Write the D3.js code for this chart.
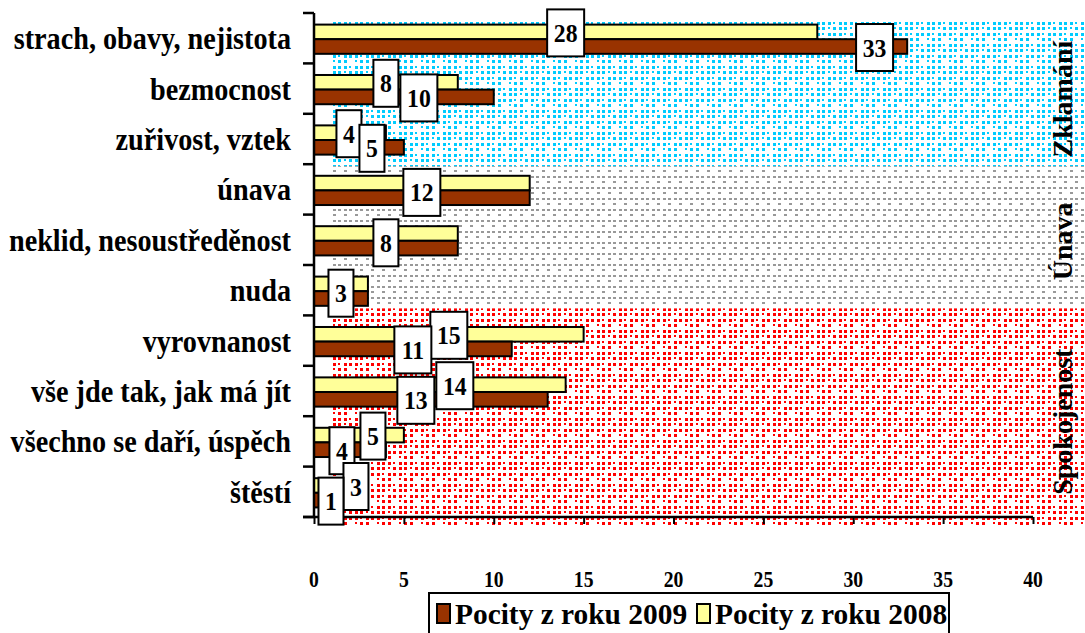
<!DOCTYPE html>
<html>
<head>
<meta charset="utf-8">
<script src="https://cdn.jsdelivr.net/npm/d3@7/dist/d3.min.js"></script>
<style>
  html, body { margin: 0; padding: 0; background: #fff; }
  svg { display: block; }
  text { font-family: "Liberation Serif", "Times New Roman", serif; font-weight: bold; fill: #000; }
</style>
</head>
<body>
<svg id="chart" width="1085" height="633"></svg>
<script>
// ---------------- DATA ----------------
const categories = [
  "strach, obavy, nejistota",
  "bezmocnost",
  "zuřivost, vztek",
  "únava",
  "neklid, nesoustředěnost",
  "nuda",
  "vyrovnanost",
  "vše jde tak, jak má jít",
  "všechno se daří, úspěch",
  "štěstí"
];
const values2008 = [28, 8, 4, 12, 8, 3, 15, 14, 5, 3];
const values2009 = [33, 10, 5, 12, 8, 3, 11, 13, 4, 1];
const seriesNames = ["Pocity z roku 2009", "Pocity z roku 2008"];
const groupNames = ["Zklamání", "Únava", "Spokojenost"];
const groupFirst = [0, 3, 6];
const groupLast = [2, 5, 9];
const xTickValues = [0, 5, 10, 15, 20, 25, 30, 35, 40];

// ---------------- LAYOUT / STYLE ----------------
const W = 1085, H = 633;
const plot = { left: 314, right: 1033, top: 13, bottom: 517 };
const colors = { y2008: "#FFFF99", y2009: "#993300" };
const groupColors = ["#00CCFF", "#999999", "#FF0000"];
// manual label nudges in px (as placed in the original), relative to bar middle
const labelNudge2008 = [0, 0, -1, 0, 0, 0, 0, 15, 14, 15];
const labelNudge2009 = [264, 15, 13, 0, 0, 0, 0, -15, -8, 8];

const svg = d3.select("#chart");
svg.append("rect").attr("width", W).attr("height", H).attr("fill", "#fff");

const x = d3.scaleLinear().domain([0, 40]).range([plot.left, plot.right]);
const y = d3.scaleBand().domain(categories).range([plot.top, plot.bottom]);
const bw = y.bandwidth();
const inner = d3.scaleBand().domain(["2008", "2009"]).range([bw * 0.23, bw * 0.81]);

// ---------- patterns ----------
const defs = svg.append("defs");
const cols = [0, 5, 11, 16];
const rowsP = [0, 5, 11, 16];
const dotMask = [
  [3, 3, 3, 2],
  [3, 3, 2, 3],
  [3, 2, 3, 3],
  [2, 3, 3, 0]
];
const greyMask = [
  [3, 3, 3, 3],
  [0, 3, 0, 3],
  [3, 3, 3, 3],
  [3, 0, 3, 0]
];
groupColors.forEach((c, gi) => {
  const p = defs.append("pattern")
    .attr("id", "pat" + gi)
    .attr("patternUnits", "userSpaceOnUse")
    .attr("x", 333).attr("y", 0)
    .attr("width", 22).attr("height", 22);
  const mask = gi === 1 ? greyMask : dotMask;
  mask.forEach((row, r) => row.forEach((s, k) => {
    if (!s) return;
    p.append("rect")
      .attr("x", cols[k]).attr("y", rowsP[r])
      .attr("width", s).attr("height", gi === 1 ? 2 : s)
      .attr("fill", c)
      .attr("shape-rendering", "crispEdges");
  }));
});

// ---------- background group regions ----------
const regionX0 = 330;
const regTop = [
  y(categories[groupFirst[0]]) + 9,
  y(categories[groupLast[0]]) + bw + 2,
  y(categories[groupLast[1]]) + bw - 7
];
const regBottom = [
  y(categories[groupLast[0]]) + bw + 2,
  y(categories[groupLast[1]]) + bw - 9,
  y(categories[groupLast[2]]) + bw + 8
];
groupNames.forEach((g, gi) => {
  svg.append("rect")
    .attr("x", regionX0).attr("y", regTop[gi])
    .attr("width", W - regionX0).attr("height", regBottom[gi] - regTop[gi])
    .attr("fill", `url(#pat${gi})`);
  const cy = (regTop[gi] + regBottom[gi]) / 2 + 5;
  svg.append("text")
    .attr("transform", `translate(1072,${cy}) rotate(-90)`)
    .attr("text-anchor", "middle")
    .attr("font-size", 28)
    .text(g);
});

// ---------- bars ----------
const rows = categories.map((c, i) => ({ c, i, v08: values2008[i], v09: values2009[i] }));
const barG = svg.append("g");
rows.forEach(d => {
  barG.append("rect")
    .attr("x", x(0)).attr("y", y(d.c) + inner("2008"))
    .attr("width", x(d.v08) - x(0)).attr("height", inner.bandwidth())
    .attr("fill", colors.y2008).attr("stroke", "#000").attr("stroke-width", 2);
  barG.append("rect")
    .attr("x", x(0)).attr("y", y(d.c) + inner("2009"))
    .attr("width", x(d.v09) - x(0)).attr("height", inner.bandwidth())
    .attr("fill", colors.y2009).attr("stroke", "#000").attr("stroke-width", 2);
});

// ---------- axes ----------
const xAxis = d3.axisBottom(x).tickValues(xTickValues).tickSize(7).tickFormat("");
const gx = svg.append("g").attr("transform", `translate(0,${plot.bottom})`).call(xAxis);
gx.select(".domain").attr("stroke", "#000").attr("stroke-width", 2.5).attr("d", `M${plot.left - 11},0H${plot.right}`);
gx.selectAll(".tick line").attr("stroke", "#000").attr("stroke-width", 2);
xTickValues.forEach(v => {
  svg.append("text")
    .attr("transform", `translate(${x(v)},587) scale(0.82,1)`)
    .attr("text-anchor", "middle")
    .attr("font-size", 24)
    .text(v);
});

const yAxis = d3.axisLeft(y).tickSize(0).tickFormat("");
const gy = svg.append("g").attr("transform", `translate(${plot.left},0)`).call(yAxis);
gy.select(".domain").attr("stroke", "#000").attr("stroke-width", 2.5).attr("d", `M0,${plot.top}V${plot.bottom}`);
const bounds = categories.map(c => y(c)).concat([plot.bottom]);
bounds.forEach(b => {
  gy.append("line").attr("x1", -11).attr("x2", 0).attr("y1", b).attr("y2", b)
    .attr("stroke", "#000").attr("stroke-width", 2.5);
});
categories.forEach(c => {
  svg.append("text")
    .attr("transform", `translate(291,${y(c) + bw / 2 + 11}) scale(0.91,1)`)
    .attr("text-anchor", "end")
    .attr("font-size", 31)
    .text(c);
});

// ---------- data labels ----------
function labelBox(cx, cy, txt) {
  const w = String(txt).length > 1 ? 37 : 25;
  const h = 47;
  const g = svg.append("g");
  g.append("rect").attr("x", cx - w / 2).attr("y", cy - h / 2).attr("width", w).attr("height", h)
    .attr("fill", "#fff").attr("stroke", "#000").attr("stroke-width", 2);
  g.append("text")
    .attr("transform", `translate(${cx},${cy + 9}) scale(0.95,1)`)
    .attr("text-anchor", "middle").attr("font-size", 25)
    .text(txt);
}
rows.forEach(d => {
  if (d.v08 === d.v09) {
    labelBox(x(d.v08 / 2) + labelNudge2008[d.i], y(d.c) + bw / 2 + 3, d.v08);
  } else {
    labelBox(x(d.v08 / 2) + labelNudge2008[d.i], y(d.c) + inner("2008") + inner.bandwidth() / 2 + 1, d.v08);
    labelBox(x(d.v09 / 2) + labelNudge2009[d.i], y(d.c) + inner("2009") + inner.bandwidth() / 2 + 1, d.v09);
  }
});

// ---------- legend ----------
const lg = svg.append("g");
lg.append("rect").attr("x", 429).attr("y", 593).attr("width", 520).attr("height", 60)
  .attr("fill", "#fff").attr("stroke", "#000").attr("stroke-width", 2);
const legendItems = [
  { name: seriesNames[0], color: colors.y2009, x: 437 },
  { name: seriesNames[1], color: colors.y2008, x: 697 }
];
legendItems.forEach(it => {
  lg.append("rect").attr("x", it.x).attr("y", 604).attr("width", 13).attr("height", 19)
    .attr("fill", it.color).attr("stroke", "#000").attr("stroke-width", 2);
  lg.append("text")
    .attr("transform", `translate(${it.x + 18},624) scale(0.98,1)`)
    .attr("font-size", 30)
    .text(it.name);
});
</script>
</body>
</html>
